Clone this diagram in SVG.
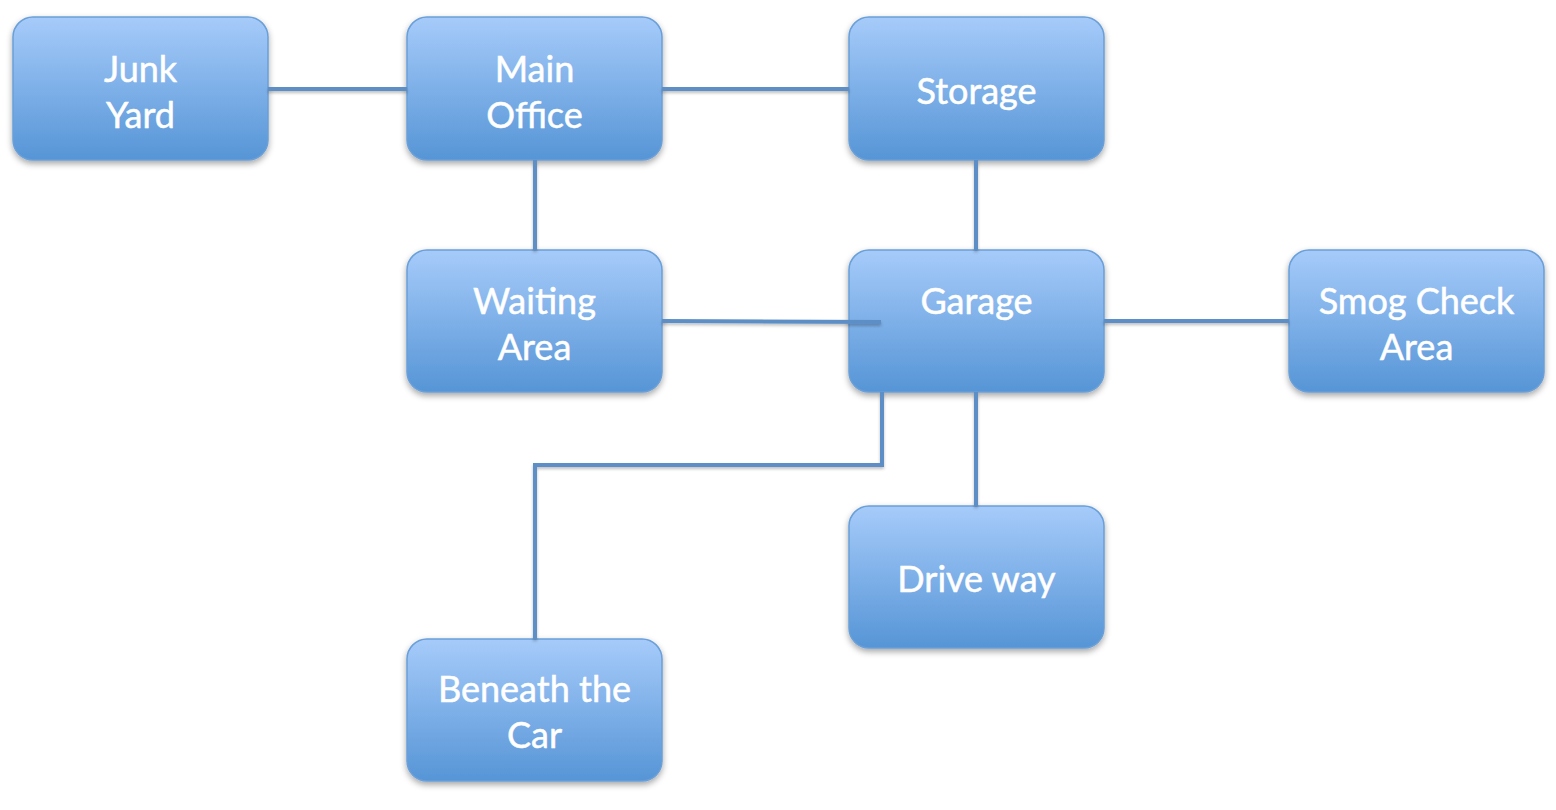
<svg xmlns="http://www.w3.org/2000/svg" width="1556" height="810" viewBox="0 0 1556 810">
<defs>
<linearGradient id="g" x1="0" y1="0" x2="0" y2="1">
<stop offset="0" stop-color="#a6cbfa"/>
<stop offset="1" stop-color="#5695d6"/>
</linearGradient>
<filter id="sh" x="-10%" y="-10%" width="120%" height="130%">
<feDropShadow dx="0" dy="3" stdDeviation="3" flood-color="#000" flood-opacity="0.35"/>
</filter>
<filter id="lsh" filterUnits="userSpaceOnUse" x="0" y="0" width="1556" height="810">
<feDropShadow dx="0" dy="2" stdDeviation="1.5" flood-color="#000" flood-opacity="0.25"/>
</filter>
</defs>
<style>
.box{fill:url(#g);stroke:#6a9fd8;stroke-width:1.5;filter:url(#sh)}
.t{font-family:Lato,"Open Sans","Liberation Sans",sans-serif;font-size:36px;fill:#fff;stroke:#fff;stroke-width:0.5;text-anchor:middle}
.c{fill:none;stroke:#5d8fc6;stroke-width:4}
</style>
<rect width="1556" height="810" fill="#fff"/>
<g id="junk-yard"><rect class="box" x="13" y="17" width="255" height="143" rx="20"/><text class="t" x="140.5" y="82">Junk</text><text class="t" x="140.5" y="128">Yard</text></g>
<g id="main-office"><rect class="box" x="407" y="17" width="255" height="143" rx="20"/><text class="t" x="534.5" y="82">Main</text><text class="t" x="534.5" y="128">Office</text></g>
<g id="storage"><rect class="box" x="849" y="17" width="255" height="143" rx="20"/><text class="t" x="976.5" y="104">Storage</text></g>
<g id="waiting-area"><rect class="box" x="407" y="250" width="255" height="142" rx="20"/><text class="t" x="534.5" y="314">Waiting</text><text class="t" x="534.5" y="360">Area</text></g>
<g id="garage"><rect class="box" x="849" y="250" width="255" height="142" rx="20"/><text class="t" x="976.5" y="314">Garage</text></g>
<g id="smog-check-area"><rect class="box" x="1289" y="250" width="255" height="142" rx="20"/><text class="t" x="1416.5" y="314">Smog Check</text><text class="t" x="1416.5" y="360">Area</text></g>
<g id="drive-way"><rect class="box" x="849" y="506" width="255" height="142" rx="20"/><text class="t" x="976.5" y="592">Drive way</text></g>
<g id="beneath-the-car"><rect class="box" x="407" y="639" width="255" height="142" rx="20"/><text class="t" x="534.5" y="702">Beneath the</text><text class="t" x="534.5" y="748">Car</text></g>
<g id="connectors" filter="url(#lsh)">
<line class="c" x1="268" y1="89" x2="407" y2="89"/>
<line class="c" x1="662" y1="89" x2="849" y2="89"/>
<line class="c" x1="535" y1="160" x2="535" y2="250"/>
<line class="c" x1="976" y1="160" x2="976" y2="250"/>
<line class="c" x1="662" y1="321" x2="881" y2="322"/>
<line class="c" x1="1104" y1="321" x2="1289" y2="321"/>
<polyline class="c" points="882,392 882,465 535,465 535,639"/>
<line class="c" x1="976" y1="392" x2="976" y2="506"/>
</g>
</svg>
